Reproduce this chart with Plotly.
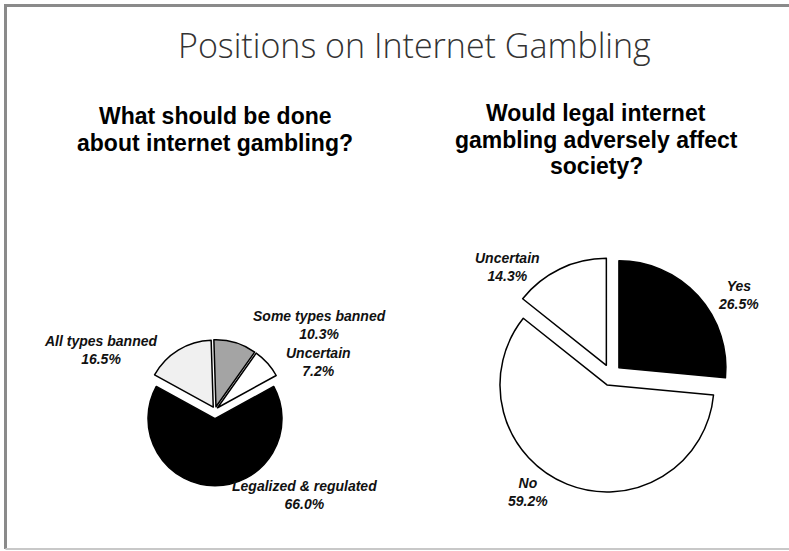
import plotly.graph_objects as go

W, H = 789, 551

# Left pie: What should be done about internet gambling?
left_labels = ["Legalized & regulated", "All types banned", "Some types banned", "Uncertain"]
left_values = [66.0, 16.5, 10.3, 7.2]
left_colors = ["#000000", "#f0f0f0", "#a4a4a4", "#ffffff"]
left_pull = [0.13, 0.05, 0.05, 0.05]

# Right pie: Would legal internet gambling adversely affect society?
right_labels = ["Yes", "No", "Uncertain"]
right_values = [26.5, 59.2, 14.3]
right_colors = ["#000000", "#ffffff", "#ffffff"]
right_pull = [0.1, 0.1, 0.1]

main_title = "Positions on Internet Gambling"
left_title_lines = ["What should be done", "about internet gambling?"]
right_title_lines = ["Would legal internet", "gambling adversely affect", "society?"]

def px_x(x):
    return x / W

def px_y(y):
    return 1 - y / H

fig = go.Figure()

fig.add_trace(go.Pie(
    labels=left_labels, values=left_values, sort=False, direction="clockwise",
    rotation=61.2, pull=left_pull, textinfo="none", hoverinfo="label+value",
    marker=dict(colors=left_colors, line=dict(color="#000000", width=1.5)),
    domain=dict(x=[px_x(215 - 75.7), px_x(215 + 75.7)], y=[px_y(410 + 75.7), px_y(410 - 75.7)]),
    showlegend=False,
))

fig.add_trace(go.Pie(
    labels=right_labels, values=right_values, sort=False, direction="clockwise",
    rotation=0, pull=right_pull, textinfo="none", hoverinfo="label+value",
    marker=dict(colors=right_colors, line=dict(color="#000000", width=1.5)),
    domain=dict(x=[px_x(611 - 117.7), px_x(611 + 117.7)], y=[px_y(375 + 117.7), px_y(375 - 117.7)]),
    showlegend=False,
))

label_font = dict(family="Liberation Sans, Arial, sans-serif", size=14, color="#111111")

# label positions (pixel centres) for the slice labels
left_label_pos = [(304, 495), (100, 350), (319, 325), (318, 362)]
right_label_pos = [(738, 295), (528, 492), (507, 267)]

annotations = []
for lab, val, (x, y) in zip(left_labels, left_values, left_label_pos):
    annotations.append(dict(
        text=f"<b><i>{lab}<br>{val:.1f}%</i></b>", x=px_x(x), y=px_y(y),
        xref="paper", yref="paper", showarrow=False, xanchor="center", yanchor="middle",
        font=label_font, align="center"))
for lab, val, (x, y) in zip(right_labels, right_values, right_label_pos):
    annotations.append(dict(
        text=f"<b><i>{lab}<br>{val:.1f}%</i></b>", x=px_x(x), y=px_y(y),
        xref="paper", yref="paper", showarrow=False, xanchor="center", yanchor="middle",
        font=label_font, align="center"))

annotations.append(dict(
    text=main_title, x=px_x(414), y=px_y(45), xref="paper", yref="paper",
    showarrow=False, xanchor="center", yanchor="middle",
    font=dict(family="Open Sans, Lato, sans-serif", size=34, color="#333333", weight=300)))

sub_font = dict(family="Liberation Sans, Arial, sans-serif", size=23, color="#000000")
for i, line in enumerate(left_title_lines):
    annotations.append(dict(
        text=f"<b>{line}</b>", x=px_x(215), y=px_y(116 + 27 * i), xref="paper", yref="paper",
        showarrow=False, xanchor="center", yanchor="middle", font=sub_font))
for i, line in enumerate(right_title_lines):
    annotations.append(dict(
        text=f"<b>{line}</b>", x=px_x(596), y=px_y(113 + 26.5 * i), xref="paper", yref="paper",
        showarrow=False, xanchor="center", yanchor="middle", font=sub_font))

shapes = [
    dict(type="line", xref="paper", yref="paper", x0=px_x(4), x1=1.0, y0=px_y(5.5), y1=px_y(5.5),
         line=dict(color="#8a8a8a", width=3)),
    dict(type="line", xref="paper", yref="paper", x0=px_x(5.5), x1=px_x(5.5), y0=px_y(4), y1=px_y(549),
         line=dict(color="#8a8a8a", width=3)),
    dict(type="line", xref="paper", yref="paper", x0=px_x(5.5), x1=1.0, y0=px_y(549), y1=px_y(549),
         line=dict(color="#c8c8c8", width=2)),
]

fig.update_layout(
    width=W, height=H, margin=dict(l=0, r=0, t=0, b=0),
    paper_bgcolor="#ffffff", plot_bgcolor="#ffffff",
    annotations=annotations, shapes=shapes,
)

fig.write_html(
    "out.html",
    config={"displayModeBar": False},
    post_script="document.body.style.margin='0';document.body.style.overflow='hidden';",
)
